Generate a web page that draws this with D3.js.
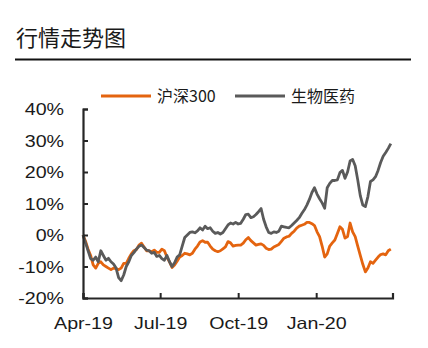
<!DOCTYPE html>
<html><head><meta charset="utf-8">
<script src="https://cdn.jsdelivr.net/npm/d3@7"></script>
<style>
html,body{margin:0;padding:0;background:#fff;}
svg{display:block;}
</style>
</head><body>
<svg id="chart" width="428" height="348"></svg>
<script>
const title = "行情走势图";
const seriesNames = ["沪深300", "生物医药"];
const seriesColors = ["#E4640F", "#5A5A5A"];
const yTicks = [-20, -10, 0, 10, 20, 30, 40];
const xTickDates = ["2019-04-01", "2019-07-01", "2019-10-01", "2020-01-01"];
const xTickLabels = ["Apr-19", "Jul-19", "Oct-19", "Jan-20"];

const dates = [
"2019-04-01","2019-04-04","2019-04-07","2019-04-10","2019-04-13","2019-04-16","2019-04-19","2019-04-22","2019-04-25","2019-04-28",
"2019-05-01","2019-05-04","2019-05-07","2019-05-10","2019-05-13","2019-05-16","2019-05-19","2019-05-22","2019-05-25","2019-05-28","2019-05-31",
"2019-06-03","2019-06-06","2019-06-09","2019-06-12","2019-06-15","2019-06-18","2019-06-21","2019-06-24","2019-06-27","2019-06-30",
"2019-07-03","2019-07-06","2019-07-09","2019-07-12","2019-07-15","2019-07-18","2019-07-21","2019-07-24","2019-07-27","2019-07-30",
"2019-08-02","2019-08-05","2019-08-08","2019-08-11","2019-08-14","2019-08-17","2019-08-20","2019-08-23","2019-08-26","2019-08-29",
"2019-09-01","2019-09-04","2019-09-07","2019-09-10","2019-09-13","2019-09-16","2019-09-19","2019-09-22","2019-09-25","2019-09-28",
"2019-10-01","2019-10-04","2019-10-07","2019-10-10","2019-10-13","2019-10-16","2019-10-19","2019-10-22","2019-10-25","2019-10-28","2019-10-31",
"2019-11-03","2019-11-06","2019-11-09","2019-11-12","2019-11-15","2019-11-18","2019-11-21","2019-11-24","2019-11-27","2019-11-30",
"2019-12-03","2019-12-06","2019-12-09","2019-12-12","2019-12-15","2019-12-18","2019-12-21","2019-12-24","2019-12-27","2019-12-30",
"2020-01-02","2020-01-05","2020-01-08","2020-01-11","2020-01-14","2020-01-17","2020-01-20","2020-01-23","2020-01-26","2020-01-29",
"2020-02-01","2020-02-04","2020-02-07","2020-02-10","2020-02-13","2020-02-16","2020-02-19","2020-02-22","2020-02-25","2020-02-28",
"2020-03-02","2020-03-05","2020-03-08","2020-03-11","2020-03-14","2020-03-17","2020-03-20","2020-03-23","2020-03-26","2020-03-29"];

const hs300 = [
0,-2,-4.5,-6.5,-9.5,-10.5,-9,-8.5,-9.5,-10,
-10.5,-11,-10.5,-10.6,-11,-10.5,-9,-9,-7.4,-6,-5,
-4.6,-3.2,-2.6,-3.8,-5,-5,-5.3,-4.8,-5.5,-5.5,
-4.5,-5,-7,-8.5,-10.3,-9.5,-8.3,-7,-6.5,-5.8,
-6,-6.3,-5.8,-4.5,-3.5,-2.2,-1.8,-2.3,-2.3,-3.5,
-4.5,-5,-5.3,-5,-4.4,-3.8,-2.1,-2.5,-3.5,-3.3,
-3.2,-3.2,-2.6,-1.5,-0.8,-1.8,-2.5,-3.2,-3,-2.8,-3.3,
-4.2,-4.6,-4.5,-3.8,-3.4,-3,-2,-1,-0.6,-0.4,
0.5,1.2,2.2,2.8,3.1,3.4,4,4,3.6,3,
1,-0.5,-3.5,-7,-6,-3.5,-2.5,-1.6,0.5,2.6,
1.8,-1,-0.5,3.8,1,-0.5,-3.5,-6.5,-9.3,-11.7,
-10.5,-8.5,-9,-8,-7,-6.2,-6,-6.3,-5,-4.5];

const bio = [
0,-2.5,-5,-7.5,-8,-7,-8.5,-5,-6.5,-8,
-7.4,-8.5,-9.2,-10.5,-13.5,-14.5,-12.7,-10,-8.5,-6.5,-5.6,
-4.5,-3.6,-3.2,-4,-4.8,-5,-5.8,-5.5,-6.8,-6.5,
-7.5,-8,-6.5,-8.5,-10,-8.8,-7,-6.3,-3.5,-0.8,
0,0.8,1,0.7,1.3,2.3,1.6,2.8,2,2.3,
1.2,0.5,0.8,0.3,0.8,2,3.2,3.8,3.5,4,
3.5,3.7,5,6.5,6.6,5.5,5.8,6.5,7.4,8.4,5,
2.6,0.8,0.5,1,0.8,1.2,2.8,2.6,2.4,2.3,
3,3.8,4.6,5.5,6.8,8,9.5,11.3,13.5,15,
13,11.5,10.2,8.5,15,16.4,17.3,17.3,17.5,19.8,
20.5,18,20,23.5,24,22,17.5,12.5,9.5,9,
12.2,17,17.5,18.5,20.5,23,25,26.2,27.5,29];

const svg = d3.select("#chart");
const parse = d3.timeParse("%Y-%m-%d");
const xDates = dates.map(parse);

const x = d3.scaleTime()
  .domain([parse("2019-04-01"), parse("2020-03-31")])
  .range([83, 392.5]);
const y = d3.scaleLinear().domain([-20, 40]).range([298, 109]);

const SX = 1.19; // horizontal stretch of tick label glyphs

// Title
svg.append("text")
  .attr("x", 16).attr("y", 46)
  .attr("font-family", "'Noto Sans CJK SC', sans-serif")
  .attr("font-size", 22)
  .attr("fill", "#1a1a1a")
  .text(title);
svg.append("line")
  .attr("x1", 15).attr("x2", 411).attr("y1", 59.5).attr("y2", 59.5)
  .attr("stroke", "#111").attr("stroke-width", 2);

// Lines
const line = d3.line()
  .x((d, i) => x(xDates[i]))
  .y(d => y(d));

[hs300, bio].forEach((vals, k) => {
  svg.append("path")
    .datum(vals)
    .attr("d", line)
    .attr("fill", "none")
    .attr("stroke", seriesColors[k])
    .attr("stroke-width", 2.8)
    .attr("stroke-linejoin", "round");
});

// Y axis
const yAxis = d3.axisLeft(y).tickValues(yTicks).tickSize(-5).tickFormat(d => d + "%");
const gy = svg.append("g").attr("transform", "translate(83,0)").call(yAxis);
gy.select(".domain").attr("stroke", "#262626").attr("stroke-width", 2.2);
gy.selectAll(".tick line").attr("stroke", "#262626").attr("stroke-width", 2);
gy.selectAll(".tick text")
  .attr("x", -19 / SX).attr("dy", "0.36em")
  .attr("transform", `scale(${SX},1)`)
  .attr("font-family", "'Liberation Sans', Arial, sans-serif")
  .attr("font-size", 16.5).attr("fill", "#1a1a1a");

// X axis
const xAxis = d3.axisBottom(x)
  .tickValues(xTickDates.map(parse))
  .tickSize(-5)
  .tickFormat((d, i) => xTickLabels[i]);
const gx = svg.append("g").attr("transform", "translate(0,298)").call(xAxis);
gx.select(".domain").attr("stroke", "#262626").attr("stroke-width", 2.2);
gx.selectAll(".tick line").attr("stroke", "#262626").attr("stroke-width", 2);
gx.selectAll(".tick text")
  .attr("y", 31).attr("dy", 0)
  .attr("transform", `scale(${SX},1)`)
  .attr("font-family", "'Liberation Sans', Arial, sans-serif")
  .attr("font-size", 16.5).attr("fill", "#1a1a1a");

// Legend
const legendX = [101, 235];
seriesNames.forEach((name, k) => {
  const g = svg.append("g").attr("transform", `translate(${legendX[k]},96)`);
  g.append("line").attr("x1", 0).attr("x2", 50).attr("y1", 0).attr("y2", 0)
    .attr("stroke", seriesColors[k]).attr("stroke-width", 2.8);
  g.append("text").attr("x", 56).attr("y", 0).attr("dy", "0.36em")
    .attr("font-family", "'Noto Sans CJK SC', sans-serif")
    .attr("font-size", 16).attr("fill", "#1a1a1a")
    .text(name);
});
</script>
</body></html>
